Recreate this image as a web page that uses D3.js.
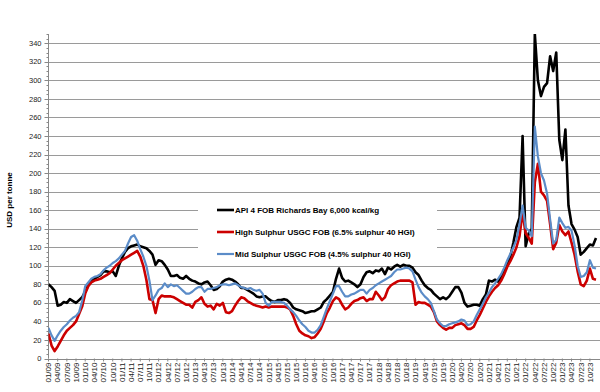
<!DOCTYPE html>
<html>
<head>
<meta charset="utf-8">
<script src="https://cdn.jsdelivr.net/npm/d3@7"></script>
<style>
  body { margin: 0; background: #fff; }
  svg { display: block; font-family: "Liberation Sans", Arial, sans-serif; }
</style>
</head>
<body>
<svg id="chart"></svg>
<script>
// monthly values, 01/09 .. 12/23
const apiRichardsBay = [
  80, 77, 73, 57, 58, 61, 60, 64, 62, 60,
  63, 66, 72, 79, 84, 86, 88, 90, 94, 94,
  93, 94, 89, 100, 108, 115, 119, 121, 122, 123,
  121, 120, 119, 116, 112, 101, 106, 105, 101, 96,
  89, 89, 90, 87, 86, 89, 86, 84, 83, 81,
  80, 82, 83, 79, 74, 75, 78, 83, 85, 86,
  85, 83, 80, 76, 76, 74, 72, 70, 67, 66,
  67, 67, 64, 62, 61, 63, 63, 64, 63, 60,
  55, 53, 52, 51, 49, 50, 51, 51, 53, 55,
  61, 64, 68, 72, 86, 97, 87, 83, 84, 82,
  80, 77, 80, 88, 93, 94, 92, 95, 94, 97,
  91, 98, 96, 99, 101, 99, 101, 100, 100, 98,
  93, 90, 84, 79, 76, 74, 70, 67, 64, 66,
  64, 67, 72, 77, 77, 71, 60, 56, 57, 58,
  58, 57, 64, 69, 84, 83, 85, 83, 88, 94,
  101, 110, 125, 142, 152, 240, 121, 135, 140, 350,
  300, 283, 293, 297, 326, 310, 330, 236, 214, 247,
  165, 145, 139, 131, 112, 115, 119, 123, 122, 130
]
const highSulphur = [
  27, 14, 8, 13, 19, 25, 30, 33, 36, 40,
  48, 56, 70, 78, 82, 84, 85, 86, 88, 90,
  92, 96, 100, 103, 106, 108, 110, 112, 114, 116,
  110, 100, 85, 64, 63, 49, 64, 68, 67, 67,
  67, 66, 64, 62, 60, 58, 58, 55, 61, 63,
  66, 59, 56, 57, 53, 59, 57, 60, 50, 49,
  51, 57, 62, 66, 65, 62, 60, 58, 57, 56,
  55, 56, 55, 56, 56, 56, 56, 56, 55, 53,
  46, 37, 30, 27, 25, 24, 22, 23, 27, 32,
  40, 49, 55, 62, 66, 64, 58, 53, 55, 59,
  62, 63, 65, 66, 62, 64, 64, 72, 68, 63,
  66, 75, 79, 81, 83, 84, 84, 84, 84, 82,
  58, 61, 60, 60, 58, 56, 50, 40, 36, 33,
  31, 33, 33, 36, 37, 38, 36, 32, 32, 34,
  41, 47, 54, 61, 67, 72, 76, 79, 84, 91,
  99, 105, 112, 120, 132, 158, 135, 130, 124, 190,
  210, 180, 176, 170, 145, 118, 125, 144, 137, 133,
  137, 125, 112, 94, 80, 78, 84, 97, 86, 85
]
const midSulphur = [
  33, 25, 19, 25, 30, 34, 37, 41, 44, 46,
  50, 62, 78, 82, 86, 88, 89, 91, 95, 98,
  100, 103, 105, 108, 112, 116, 124, 131, 133, 127,
  118, 110, 100, 84, 63, 68, 74, 76, 81, 77,
  80, 78, 79, 76, 73, 70, 70, 72, 75, 77,
  77, 72, 75, 75, 76, 77, 79, 80, 80, 79,
  80, 81, 79, 77, 76, 75, 76, 74, 73, 74,
  70, 60, 57, 61, 61, 61, 61, 60, 57, 53,
  50, 46, 41, 37, 34, 30, 28, 28, 31, 36,
  45, 54, 62, 70, 78, 78, 72, 67, 67, 69,
  70, 72, 74, 74, 70, 74, 76, 79, 81, 83,
  85, 87, 89, 93, 96, 96, 97, 98, 97, 94,
  85, 77, 71, 67, 64, 60, 51, 42, 38, 35,
  35, 37, 38, 39, 40, 42, 41, 36, 37, 40,
  47, 53, 59, 66, 71, 77, 81, 86, 91, 98,
  106, 113, 120, 128, 145, 165, 141, 138, 132, 250,
  218, 200, 192, 178, 150, 124, 128, 152, 146, 141,
  142, 138, 122, 100, 88, 89, 93, 106, 98, 97
]
// quarterly axis labels
const tickLabels = [
  '01/09', '04/09', '07/09', '10/09', '01/10', '04/10', '07/10', '10/10',
  '01/11', '04/11', '07/11', '10/11', '01/12', '04/12', '07/12', '10/12',
  '01/13', '04/13', '07/13', '10/13', '01/14', '04/14', '07/14', '10/14',
  '01/15', '04/15', '07/15', '10/15', '01/16', '04/16', '07/16', '10/16',
  '01/17', '04/17', '07/17', '10/17', '01/18', '04/18', '07/18', '10/18',
  '01/19', '04/19', '07/19', '10/19', '01/20', '04/20', '07/20', '10/20',
  '01/21', '04/21', '07/21', '10/21', '01/22', '04/22', '07/22', '10/22',
  '01/23', '04/23', '07/23', '10/23'
]
const seriesNames = [
  'API 4 FOB Richards Bay 6,000 kcal/kg',
  'High Sulphur USGC FOB (6.5% sulphur 40 HGI)',
  'Mid Sulphur USGC FOB (4.5% sulphur 40 HGI)'
]
const yTicks = d3.range(0, 341, 20)

const width = 600
const height = 392
const series = [
  {name: seriesNames[0], values: apiRichardsBay, color: '#000000', w: 2.6},
  {name: seriesNames[1], values: highSulphur, color: '#cc0000', w: 2.6},
  {name: seriesNames[2], values: midSulphur, color: '#5b8cc8', w: 2.2}
]

let svg = d3.select('#chart').attr('width', width).attr('height', height)

let x = d3.scaleLinear().domain([0, apiRichardsBay.length - 1]).range([48.5, 596])
let y = d3.scaleLinear().domain([0, 350]).range([358.5, 34])
const x0 = x(0)

svg.append('clipPath').attr('id', 'plot-clip')
    .append('rect')
    .attr('x', x0).attr('y', y(350))
    .attr('width', width - x0).attr('height', y(0) - y(350))

// grid lines
svg.append('g')
    .selectAll('line')
    .data(yTicks.filter(d => d > 0))
    .join('line')
    .attr('x1', x0).attr('x2', width)
    .attr('y1', d => Math.round(y(d)) + 0.5).attr('y2', d => Math.round(y(d)) + 0.5)
    .attr('stroke', '#9a9a9a')
    .attr('stroke-width', 1)

// y axis
let yAxis = svg.append('g')
    .attr('transform', 'translate(' + x0 + ',0)')
yAxis.append('line')
    .attr('y1', y(350)).attr('y2', y(0))
    .attr('stroke', '#888')
yAxis.selectAll('.minor')
    .data(d3.range(0, 351, 5))
    .join('line')
    .attr('class', 'minor')
    .attr('x1', -2).attr('x2', 0)
    .attr('y1', d => Math.round(y(d)) + 0.5).attr('y2', d => Math.round(y(d)) + 0.5)
    .attr('stroke', '#888')
yAxis.selectAll('.major')
    .data(yTicks)
    .join('line')
    .attr('class', 'major')
    .attr('x1', -4).attr('x2', 0)
    .attr('y1', d => Math.round(y(d)) + 0.5).attr('y2', d => Math.round(y(d)) + 0.5)
    .attr('stroke', '#888')
yAxis.selectAll('text')
    .data(yTicks)
    .join('text')
    .attr('x', -7)
    .attr('y', d => y(d))
    .attr('dy', '0.35em')
    .attr('text-anchor', 'end')
    .attr('font-size', '7.5px')
    .attr('fill', '#222')
    .text(d => d)

svg.append('text')
    .attr('transform', 'translate(12,200) rotate(-90)')
    .attr('text-anchor', 'middle')
    .attr('font-size', '8px')
    .attr('font-weight', 'bold')
    .text('USD per tonne')

// x axis
let xAxis = svg.append('g')
xAxis.append('line')
    .attr('x1', x0).attr('x2', width)
    .attr('y1', Math.round(y(0)) + 0.5).attr('y2', Math.round(y(0)) + 0.5)
    .attr('stroke', '#888')
xAxis.selectAll('.tick')
    .data(tickLabels)
    .join('line')
    .attr('class', 'tick')
    .attr('x1', (d, i) => x(i * 3)).attr('x2', (d, i) => x(i * 3))
    .attr('y1', y(0)).attr('y2', y(0) + 3)
    .attr('stroke', '#888')
xAxis.selectAll('text')
    .data(tickLabels)
    .join('text')
    .attr('transform', (d, i) => 'translate(' + (x(i * 3) + 2.8) + ',' + (y(0) + 4) + ') rotate(-90)')
    .attr('text-anchor', 'end')
    .attr('font-size', '8px')
    .attr('fill', '#222')
    .text(d => d)

// series lines
let line = d3.line()
    .x((d, i) => x(i))
    .y(d => y(d))

svg.append('g')
    .attr('clip-path', 'url(#plot-clip)')
    .selectAll('path')
    .data(series)
    .join('path')
    .attr('fill', 'none')
    .attr('stroke', d => d.color)
    .attr('stroke-width', d => d.w)
    .attr('stroke-linejoin', 'round')
    .attr('d', d => line(d.values))

// legend
let legend = svg.append('g')
legend.append('rect')
    .attr('x', 198).attr('y', 197)
    .attr('width', 239).attr('height', 65)
    .attr('fill', '#fff')
let item = legend.selectAll('.item')
    .data(series)
    .join('g')
    .attr('class', 'item')
    .attr('transform', (d, i) => 'translate(217,' + (210 + i * 22) + ')')
item.append('line')
    .attr('x1', 0).attr('x2', 17)
    .attr('stroke', d => d.color)
    .attr('stroke-width', d => d.w)
item.append('text')
    .attr('x', 18)
    .attr('dy', '0.35em')
    .attr('font-size', '8px')
    .attr('font-weight', 'bold')
    .text(d => d.name)
</script>
</body>
</html>
